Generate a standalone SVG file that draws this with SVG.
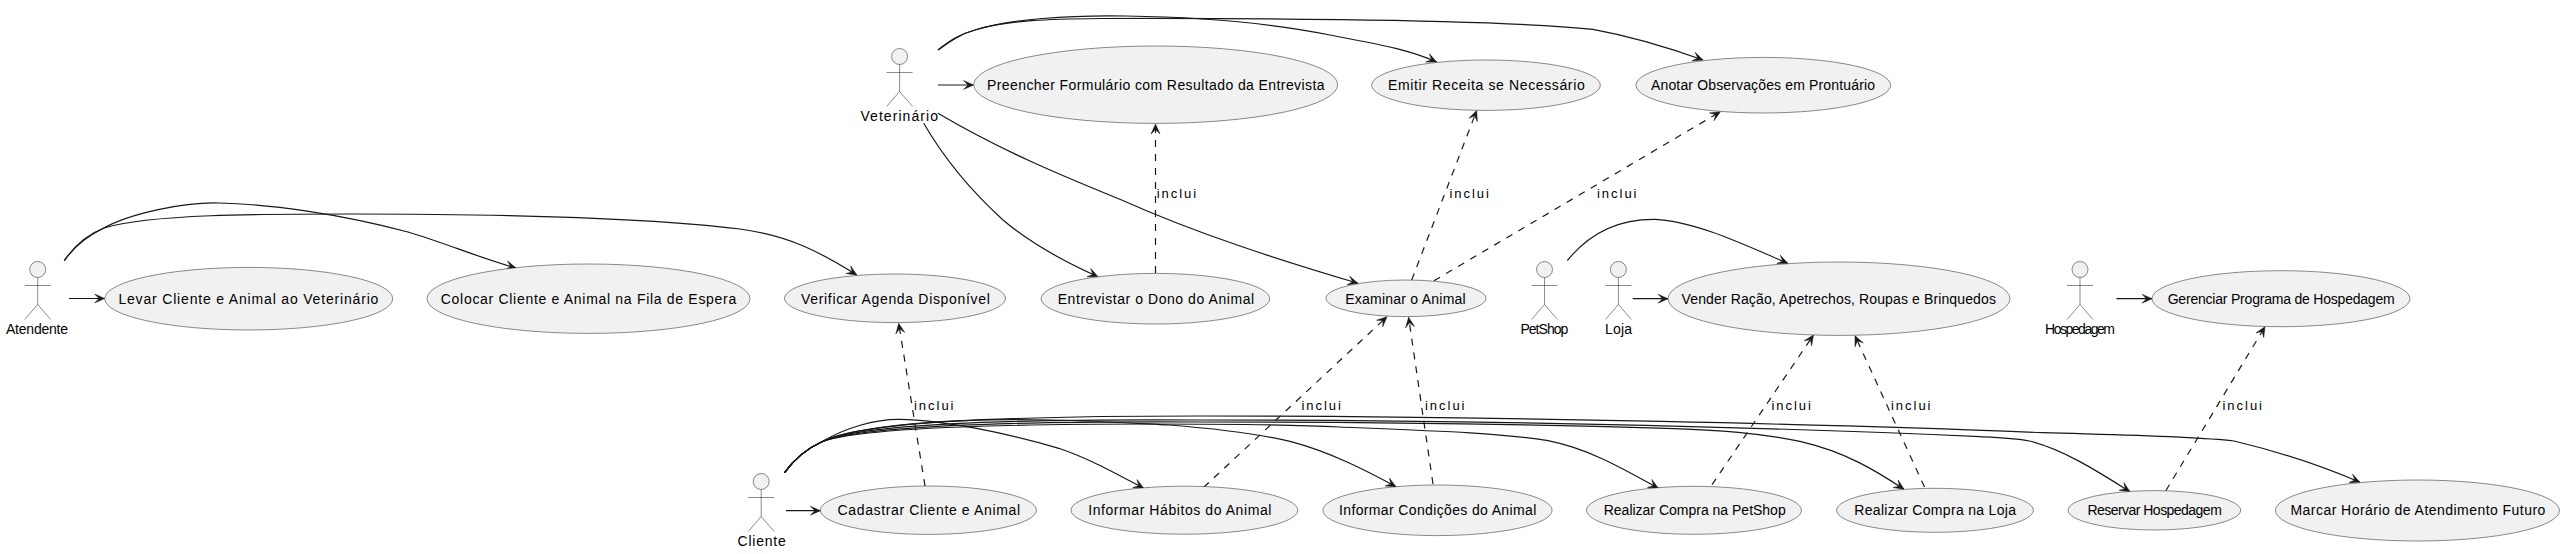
<svg xmlns="http://www.w3.org/2000/svg" width="2560" height="554" viewBox="0 0 2560 554">
<style>
text{font-family:"Liberation Sans",Arial,sans-serif;font-size:14px;fill:#000}
.l{font-size:13px}
.u{fill:#F1F1F1;stroke:#181818;stroke-width:.5}
.ah{fill:#F1F1F1;stroke:#181818;stroke-width:.5}
.ab{fill:none;stroke:#181818;stroke-width:.5}
.c{fill:none;stroke:#181818;stroke-width:1.2;marker-end:url(#h)}
.d{stroke-dasharray:7 7}
</style>
<defs>
<marker id="h" markerUnits="userSpaceOnUse" markerWidth="12" markerHeight="12" refX="10" refY="6" orient="auto" overflow="visible">
<polygon points="10,6 0,1.5 4.5,6 0,10.5" fill="#181818" stroke="#181818" stroke-width=".5"/>
</marker>
<g id="actor"><circle class="ah" cx="0" cy="8" r="8"/><path class="ab" d="M0,16V43M-13,24H13M0,43L-13,58M0,43L13,58"/></g>
</defs>
<rect width="2560" height="554" fill="#fff"/>
<g id="connectors">
<path class="c" d="M69,298.5H104.6"/>
<path class="c" d="M64.3,260.7C75,245 88,236 102,229C130,213 185,202 219,203C270,204 340,214 408,232C445,243 480,258 516,268"/>
<path class="c" d="M64.3,260.7C75,245 88,234 104,228C150,214 260,214 350,214C480,214 640,217 740,229C790,236 820,252 856.8,275"/>
<path class="c" d="M938,50C950,41 960,34 975,30C1010,19 1070,15 1126,16C1200,17 1265,22 1330,35C1370,43 1405,48 1436.7,62"/>
<path class="c" d="M938,50C950,41 960,34 975,30C1010,20 1050,19 1100,18.5C1180,18 1260,18.5 1340,19.7C1440,21 1530,23 1593,29.3C1635,37 1670,48 1703,60"/>
<path class="c" d="M938,85H973.5"/>
<path class="c" d="M923.7,123.3C945,160 970,190 1003,220C1030,243 1065,262 1098,276.7"/>
<path class="c" d="M938,113.3C1000,150 1060,175 1121.6,200C1200,235 1280,260 1358,283.3"/>
<path class="c" d="M1567.3,260.7C1590,232 1620,219 1655,219.3C1695,221 1745,245 1787.8,263.3"/>
<path class="c" d="M1632.7,298.7H1668"/>
<path class="c" d="M2116.4,298.7H2152"/>
<path class="c" d="M786,510.7H820.4"/>
<path class="c" d="M784.5,472.7C795,458 808,448 822,441.7C845,428 875,419 899.6,419.3C945,420 1010,434 1058.8,448.3C1090,459 1115,473 1143.7,488.3"/>
<path class="c" d="M784.5,472.7C795,458 808,448 822,441.7C860,425 950,418 1050,420C1100,421 1130,423 1169,425C1220,429 1260,434 1291,441.7C1330,452 1365,470 1396,486.7"/>
<path class="c" d="M784.5,472.7C795,458 808,448 822,441.7C860,428 1000,424 1150,424C1250,424 1300,425 1340,427C1440,431 1500,433 1548,440.7C1590,449 1625,470 1658.4,488.3"/>
<path class="c" d="M784.5,472.7C795,458 808,448 822,441.7C860,426 1000,421 1200,422C1350,422 1520,424 1666.5,428.3C1720,430 1760,433 1801,441.7C1845,452 1875,470 1904,489.3"/>
<path class="c" d="M784.5,472.7C795,458 808,448 822,441.7C860,424 1000,419 1200,420C1450,420 1750,426 1980,436.7C2000,437.5 2015,438 2029.5,441C2065,450 2100,473 2130,491.7"/>
<path class="c" d="M784.5,472.7C795,458 808,448 822,441.7C860,422 1000,416 1200,416C1500,416 1850,425 2043,432.7C2120,435 2190,436 2234,441C2280,452 2320,465 2360,482.3"/>
<path class="c d" d="M1155.5,273V124"/>
<path class="c d" d="M1411.7,280L1476.7,110.5"/>
<path class="c d" d="M1434,280.7L1720.4,111.7"/>
<path class="c d" d="M925,486L898.7,323.3"/>
<path class="c d" d="M1203.7,487.3L1387,316.7"/>
<path class="c d" d="M1433,484L1408.6,317.3"/>
<path class="c d" d="M1712,484.7L1813.5,335"/>
<path class="c d" d="M1924.5,487L1855,335.7"/>
<path class="c d" d="M2165.8,490.7L2265,326.7"/>
</g>
<g id="labels">
<text class="l" x="1156.7" y="198" textLength="39.5">inclui</text>
<text class="l" x="1449.4" y="198" textLength="39.5">inclui</text>
<text class="l" x="1597" y="198" textLength="39.5">inclui</text>
<text class="l" x="2222.5" y="410" textLength="39.5">inclui</text>
<text class="l" x="914" y="410" textLength="39.5">inclui</text>
<text class="l" x="1301.4" y="410" textLength="39.5">inclui</text>
<text class="l" x="1425" y="410" textLength="39.5">inclui</text>
<text class="l" x="1771.4" y="410" textLength="39.5">inclui</text>
<text class="l" x="1891" y="410" textLength="39.5">inclui</text>
</g>
<g id="atendente"><use href="#actor" x="37.7" y="261.5"/><text x="6" y="334" textLength="62">Atendente</text></g>
<g id="veterinario"><use href="#actor" x="899.6" y="48.5"/><text x="860.4" y="120.5" textLength="77.6">Veterinário</text></g>
<g id="petshop"><use href="#actor" x="1544.5" y="261.5"/><text x="1520.4" y="334" textLength="48">PetShop</text></g>
<g id="loja"><use href="#actor" x="1618.4" y="261.5"/><text x="1605" y="334" textLength="27">Loja</text></g>
<g id="hospedagem"><use href="#actor" x="2080" y="261.5"/><text x="2045" y="334" textLength="70">Hospedagem</text></g>
<g id="cliente"><use href="#actor" x="761.2" y="473.5"/><text x="737.5" y="545.7" textLength="48.2">Cliente</text></g>
<g id="levar"><ellipse class="u" cx="248.7" cy="298.7" rx="144" ry="31.3"/><text x="118.4" y="303.5" textLength="260">Levar Cliente e Animal ao Veterinário</text></g>
<g id="colocar"><ellipse class="u" cx="588.5" cy="298.7" rx="161.5" ry="34.7"/><text x="440.8" y="303.5" textLength="295.4">Colocar Cliente e Animal na Fila de Espera</text></g>
<g id="verificar"><ellipse class="u" cx="895" cy="298.3" rx="110.5" ry="24.3"/><text x="801" y="303.5" textLength="188.8">Verificar Agenda Disponível</text></g>
<g id="entrevistar"><ellipse class="u" cx="1155.4" cy="298.7" rx="114.3" ry="25.3"/><text x="1057.7" y="303.5" textLength="196.4">Entrevistar o Dono do Animal</text></g>
<g id="examinar"><ellipse class="u" cx="1406" cy="298.3" rx="80" ry="18.3"/><text x="1345.2" y="303.5" textLength="120.5">Examinar o Animal</text></g>
<g id="preencher"><ellipse class="u" cx="1155.7" cy="84.7" rx="182" ry="38.7"/><text x="987" y="89.5" textLength="337.5">Preencher Formulário com Resultado da Entrevista</text></g>
<g id="emitir"><ellipse class="u" cx="1486" cy="85.2" rx="114.3" ry="25.2"/><text x="1388" y="89.5" textLength="196.7">Emitir Receita se Necessário</text></g>
<g id="anotar"><ellipse class="u" cx="1763.3" cy="85.2" rx="127.3" ry="27.8"/><text x="1651" y="89.5" textLength="224">Anotar Observações em Prontuário</text></g>
<g id="vender"><ellipse class="u" cx="1839" cy="298.7" rx="171" ry="36.7"/><text x="1681.6" y="303.5" textLength="314.3">Vender Ração, Apetrechos, Roupas e Brinquedos</text></g>
<g id="gerenciar"><ellipse class="u" cx="2281" cy="298.7" rx="129" ry="28"/><text x="2167.7" y="303.5" textLength="227">Gerenciar Programa de Hospedagem</text></g>
<g id="cadastrar"><ellipse class="u" cx="928.4" cy="510.2" rx="108" ry="24.2"/><text x="837.6" y="515" textLength="182.4">Cadastrar Cliente e Animal</text></g>
<g id="habitos"><ellipse class="u" cx="1184.4" cy="510.2" rx="113.4" ry="24"/><text x="1088.2" y="515" textLength="183.2">Informar Hábitos do Animal</text></g>
<g id="condicoes"><ellipse class="u" cx="1437.5" cy="510.3" rx="114.6" ry="25.3"/><text x="1339" y="515" textLength="197.3">Informar Condições do Animal</text></g>
<g id="compra-petshop"><ellipse class="u" cx="1694" cy="510.3" rx="107.5" ry="24"/><text x="1603.7" y="515" textLength="182">Realizar Compra na PetShop</text></g>
<g id="compra-loja"><ellipse class="u" cx="1935" cy="510.3" rx="98.4" ry="22"/><text x="1854.3" y="515" textLength="161.7">Realizar Compra na Loja</text></g>
<g id="reservar"><ellipse class="u" cx="2154.4" cy="510.3" rx="86.3" ry="19.7"/><text x="2087.4" y="515" textLength="134.4">Reservar Hospedagem</text></g>
<g id="marcar"><ellipse class="u" cx="2417.5" cy="510.5" rx="142" ry="30.5"/><text x="2290.5" y="515" textLength="254.8">Marcar Horário de Atendimento Futuro</text></g>
</svg>
